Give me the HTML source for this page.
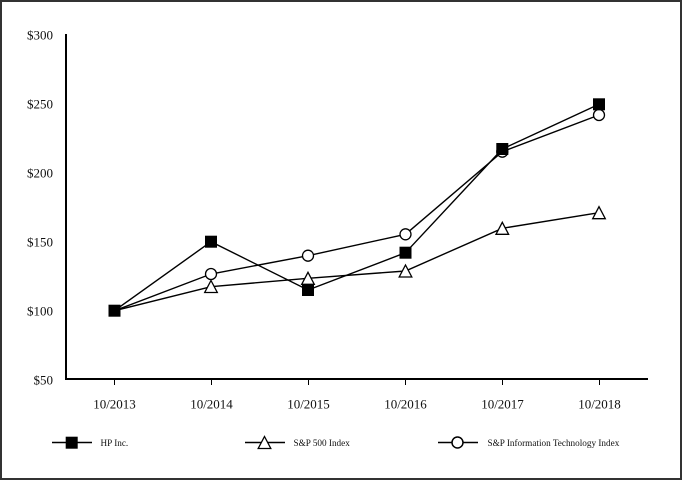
<!DOCTYPE html>
<html>
<head>
<meta charset="utf-8">
<style>
html,body{margin:0;padding:0;background:#fff;}
svg{display:block;}
text{font-family:"Liberation Serif","Times New Roman",serif;fill:#111;}
</style>
</head>
<body>
<svg width="682" height="480" viewBox="0 0 682 480" xmlns="http://www.w3.org/2000/svg">
<rect x="1" y="1" width="680" height="478" fill="#fff" stroke="#333" stroke-width="2"/>
<!-- axes -->
<line x1="66" y1="34" x2="66" y2="380" stroke="#000" stroke-width="2"/>
<line x1="65" y1="379" x2="648" y2="379" stroke="#000" stroke-width="2"/>
<!-- ticks -->
<g stroke="#000" stroke-width="1">
<line x1="114.5" y1="379" x2="114.5" y2="385"/>
<line x1="211.5" y1="379" x2="211.5" y2="385"/>
<line x1="308.5" y1="379" x2="308.5" y2="385"/>
<line x1="405.5" y1="379" x2="405.5" y2="385"/>
<line x1="502.5" y1="379" x2="502.5" y2="385"/>
<line x1="599.5" y1="379" x2="599.5" y2="385"/>
</g>
<!-- y labels -->
<g font-size="13" text-anchor="end">
<text x="53" y="39.5">$300</text>
<text x="53" y="108.5">$250</text>
<text x="53" y="177.5">$200</text>
<text x="53" y="246.5">$150</text>
<text x="53" y="315.5">$100</text>
<text x="53" y="384.5">$50</text>
</g>
<!-- x labels -->
<g font-size="13" text-anchor="middle">
<text x="114.5" y="408.5">10/2013</text>
<text x="211.5" y="408.5">10/2014</text>
<text x="308.5" y="408.5">10/2015</text>
<text x="405.5" y="408.5">10/2016</text>
<text x="502.5" y="408.5">10/2017</text>
<text x="599.5" y="408.5">10/2018</text>
</g>
<!-- series lines -->
<g fill="none" stroke="#000" stroke-width="1.4">
<polyline points="114.5,310.7 211,286.7 308,278.3 405.5,271 502.3,228.3 599,212.7"/>
<polyline points="114.5,310.7 211,274 308,255.7 405.5,234.3 502.3,151.7 599,115"/>
<polyline points="114.5,310.7 211,241.7 308,290 405.5,252.7 502.3,149 599,104.3"/>
</g>
<!-- triangles -->
<g fill="#fff" stroke="#000" stroke-width="1.3">
<polygon points="211,280.5 217.3,292.5 204.7,292.5"/>
<polygon points="308,272.3 314.3,284.3 301.7,284.3"/>
<polygon points="405.5,265 411.8,277 399.2,277"/>
<polygon points="502.3,222.3 508.6,234.3 496,234.3"/>
<polygon points="599,206.7 605.3,218.7 592.7,218.7"/>
</g>
<!-- circles -->
<g fill="#fff" stroke="#000" stroke-width="1.3">
<circle cx="211" cy="274" r="5.5"/>
<circle cx="308" cy="255.7" r="5.5"/>
<circle cx="405.5" cy="234.3" r="5.5"/>
<circle cx="502.3" cy="151.7" r="5.5"/>
<circle cx="599" cy="115" r="5.5"/>
</g>
<!-- squares -->
<g fill="#000">
<rect x="108.5" y="304.7" width="12" height="12"/>
<rect x="205" y="235.7" width="12" height="12"/>
<rect x="302" y="284" width="12" height="12"/>
<rect x="399.5" y="246.7" width="12" height="12"/>
<rect x="496.3" y="143" width="12" height="12"/>
<rect x="593" y="98.3" width="12" height="12"/>
</g>
<!-- legend -->
<g stroke="#000" stroke-width="1.5">
<line x1="52" y1="442.5" x2="92" y2="442.5"/>
<line x1="245" y1="442.5" x2="285" y2="442.5"/>
<line x1="438" y1="442.5" x2="478" y2="442.5"/>
</g>
<rect x="65.7" y="436.7" width="12" height="12" fill="#000"/>
<polygon points="264.5,436.5 270.8,448.5 258.2,448.5" fill="#fff" stroke="#000" stroke-width="1.3"/>
<circle cx="457.5" cy="442.5" r="5.5" fill="#fff" stroke="#000" stroke-width="1.5"/>
<g font-size="9.2">
<text x="100.5" y="445.8">HP Inc.</text>
<text x="293.5" y="445.8">S&amp;P 500 Index</text>
<text x="487.5" y="445.8">S&amp;P Information Technology Index</text>
</g>
</svg>
</body>
</html>
